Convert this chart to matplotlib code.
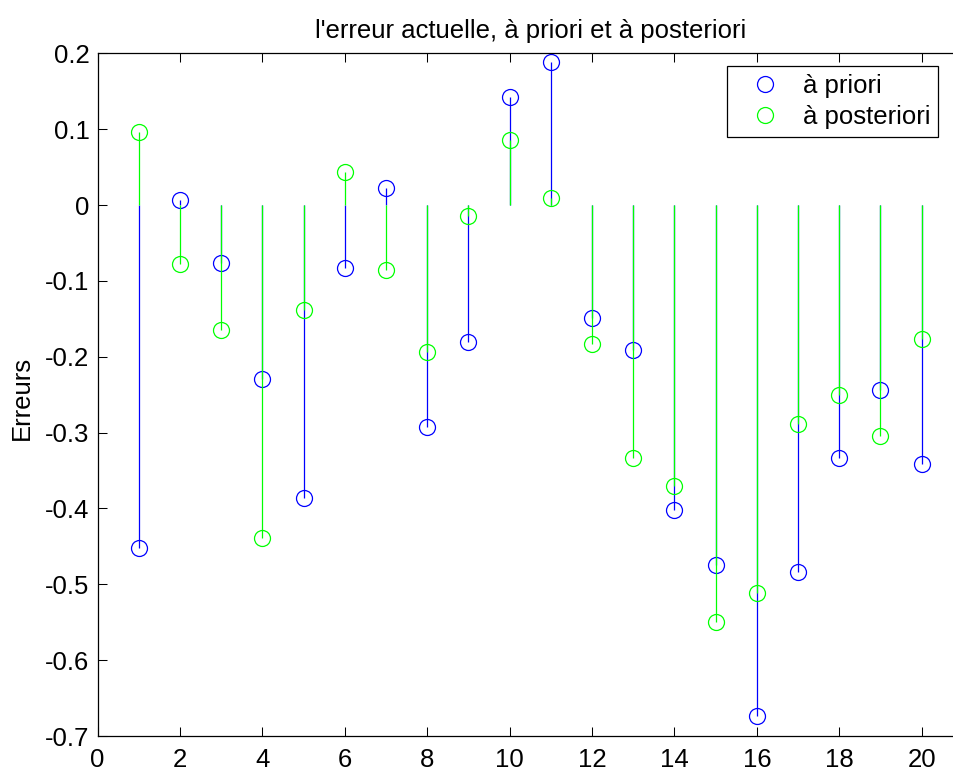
import matplotlib
matplotlib.use("Agg")
import matplotlib.pyplot as plt

# erreurs
iterations = list(range(1, 21))
erreur_priori = [-0.452, 0.006, -0.076, -0.229, -0.386, -0.083, 0.022, -0.292, -0.181, 0.143,
                 0.188, -0.149, -0.191, -0.402, -0.474, -0.674, -0.484, -0.334, -0.244, -0.341]
erreur_posteriori = [0.096, -0.078, -0.165, -0.439, -0.139, 0.044, -0.086, -0.194, -0.015, 0.086,
                     0.009, -0.183, -0.334, -0.371, -0.550, -0.512, -0.289, -0.250, -0.305, -0.176]
legende = ["à priori", "à posteriori"]

plt.rcParams['font.family'] = ['Liberation Sans', 'DejaVu Sans']
plt.rcParams['axes.unicode_minus'] = False
FS = 18.5

fig = plt.figure(figsize=(9.54, 7.71), dpi=100)
W, H = 954, 771
ax = fig.add_axes([97.5 / W, 1 - 736 / H, 21 * 41.21 / W, (736 - 53.3) / H])

def stem_plot(y, color):
    markerline, stemlines, baseline = ax.stem(iterations, y)
    baseline.set_visible(False)
    stemlines.set_color(color)
    stemlines.set_linewidth(0.9)
    markerline.set_color(color)
    markerline.set_markerfacecolor('none')
    markerline.set_markersize(11.5)
    markerline.set_markeredgewidth(0.9)
    return markerline

m1 = stem_plot(erreur_priori, '#0000ff')
m2 = stem_plot(erreur_posteriori, '#00ff00')

ax.set_xlim(0, 21)
ax.set_ylim(-0.7, 0.2)
ax.set_xticks(range(0, 21, 2))
ax.set_yticks([-0.7, -0.6, -0.5, -0.4, -0.3, -0.2, -0.1, 0, 0.1, 0.2])
ax.set_yticklabels(['-0.7', '-0.6', '-0.5', '-0.4', '-0.3', '-0.2', '-0.1', '0', '0.1', '0.2'])
ax.tick_params(direction='in', length=6.5, width=0.75, labelsize=FS, top=True, right=True)
ax.tick_params(axis='x', pad=8.5)
ax.tick_params(axis='y', pad=5.8)
for s in ax.spines.values():
    s.set_linewidth(0.9)

ax.set_title("l'erreur actuelle, à priori et à posteriori", fontsize=FS, pad=11)
ax.set_ylabel("Erreurs", fontsize=FS)
ax.yaxis.set_label_coords(-0.073, 0.495)

leg = ax.legend([m1, m2], legende, loc='upper left', bbox_to_anchor=(727 / W, 1 - 66 / H),
                bbox_transform=fig.transFigure, borderaxespad=0, fontsize=FS, numpoints=1,
                fancybox=False, framealpha=1, edgecolor='black', borderpad=0.3,
                labelspacing=0.3, handlelength=2.33, handletextpad=0.31)
leg.get_frame().set_linewidth(0.9)

fig.savefig("out.png", dpi=100)
